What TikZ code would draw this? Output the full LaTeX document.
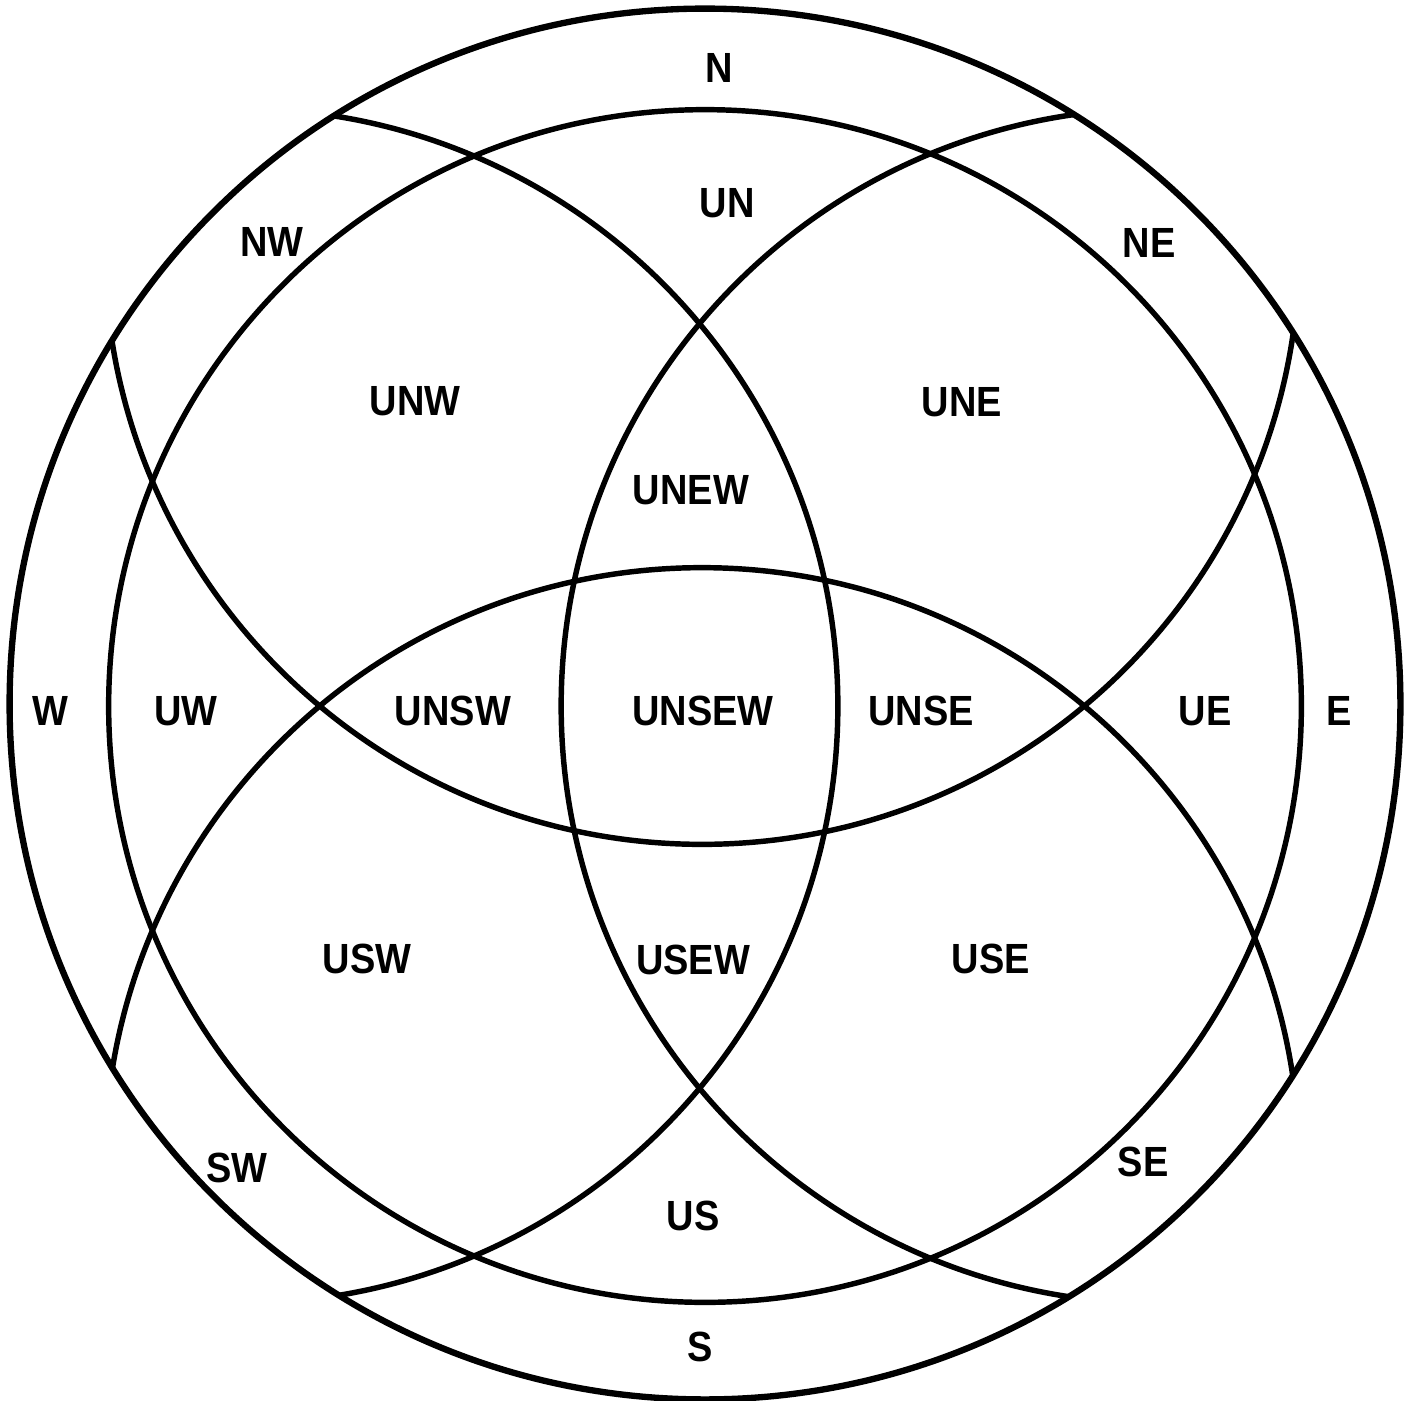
\documentclass[tikz,border=0pt]{standalone}
\usepackage{fontspec}
\newfontfamily\labfont{Liberation Sans}[FakeStretch=0.9]
\begin{document}
\begin{tikzpicture}[x=0.01cm,y=-0.01cm,
  ring/.style={draw=black,line width=1.55pt},
  rim/.style={draw=black,line width=1.8pt},
  lab/.style={font=\labfont\bfseries\fontsize{12}{12}\selectfont,inner sep=0pt}]
\useasboundingbox (0,0) rectangle (1413,1400);
% four set circles, clipped to the outer circle
\begin{scope}
  \clip (705,704) circle[radius=6.95cm];
  \draw[ring] (240.5,706) circle[radius=5.97cm];  % W
  \draw[ring] (1158.5,706) circle[radius=5.97cm]; % E
  \draw[ring] (702,247) circle[radius=5.97cm];    % N
  \draw[ring] (702,1165) circle[radius=5.97cm];   % S
\end{scope}
\draw[ring] (705,706) circle[radius=5.96cm]; % U
\draw[rim] (705,704) circle[radius=6.95cm]; % outer
% labels
\node[lab] (n)     at (719,68)   {N};
\node[lab] (un)    at (727,203)  {UN};
\node[lab] (nw)    at (272,242)  {NW};
\node[lab] (ne)    at (1149,243) {NE};
\node[lab] (unw)   at (415,401)  {UNW};
\node[lab] (une)   at (962,402)  {UNE};
\node[lab] (unew)  at (691,490)  {UNEW};
\node[lab] (w)     at (50,711)   {W};
\node[lab] (uw)    at (186,711)  {UW};
\node[lab] (unsw)  at (453,711)  {UNSW};
\node[lab] (unsew) at (703,711)  {UNSEW};
\node[lab] (unse)  at (921,711)  {UNSE};
\node[lab] (ue)    at (1205,711) {UE};
\node[lab] (e)     at (1339,711) {E};
\node[lab] (usw)   at (367,959)  {USW};
\node[lab] (usew)  at (693,960)  {USEW};
\node[lab] (use)   at (991,959)  {USE};
\node[lab] (sw)    at (237,1168) {SW};
\node[lab] (se)    at (1143,1162){SE};
\node[lab] (us)    at (693,1216) {US};
\node[lab] (s)     at (700,1347) {S};
\end{tikzpicture}
\end{document}
